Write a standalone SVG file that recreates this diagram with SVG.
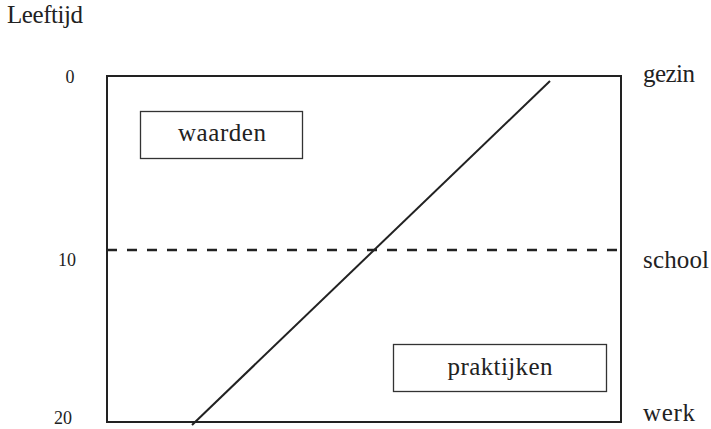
<svg xmlns="http://www.w3.org/2000/svg" width="711" height="429" viewBox="0 0 711 429">
  <style>
    text { font-family: "Liberation Serif", "DejaVu Serif", serif; fill: #222; }
    .lbl { font-size: 25px; }
    .num { font-size: 18px; }
    .frame { fill: none; stroke: #222; stroke-width: 2; }
    .box { fill: #fff; stroke: #333; stroke-width: 1.3; }
    .dash { stroke: #222; stroke-width: 2.5; stroke-dasharray: 10 10; fill: none; }
    .diag { stroke: #222; stroke-width: 2; fill: none; }
  </style>
  <rect width="711" height="429" fill="#fff"/>
  <text id="axis-title" class="lbl" x="7" y="23" textLength="76" lengthAdjust="spacing">Leeftijd</text>
  <g id="frame">
    <rect class="frame" x="107" y="76" width="514" height="346"/>
  </g>
  <g id="connectors">
    <line class="dash" x1="107" y1="250" x2="621" y2="250"/>
    <line class="diag" x1="192" y1="425" x2="550" y2="81"/>
  </g>
  <g id="waarden">
    <rect class="box" x="140.5" y="111.5" width="162" height="47"/>
    <text class="lbl" x="222" y="141" text-anchor="middle" textLength="88" lengthAdjust="spacing">waarden</text>
  </g>
  <g id="praktijken">
    <rect class="box" x="393.5" y="344.5" width="213" height="47"/>
    <text class="lbl" x="500" y="375" text-anchor="middle" textLength="105" lengthAdjust="spacing">praktijken</text>
  </g>
  <g id="ages">
    <text class="num" x="70" y="83" text-anchor="middle">0</text>
    <text class="num" x="67" y="266" text-anchor="middle">10</text>
    <text class="num" x="63" y="424" text-anchor="middle">20</text>
  </g>
  <g id="stages">
    <text class="lbl" x="643" y="82" textLength="52" lengthAdjust="spacing">gezin</text>
    <text class="lbl" x="643" y="268" textLength="66" lengthAdjust="spacing">school</text>
    <text class="lbl" x="643" y="421" textLength="52" lengthAdjust="spacing">werk</text>
  </g>
</svg>
